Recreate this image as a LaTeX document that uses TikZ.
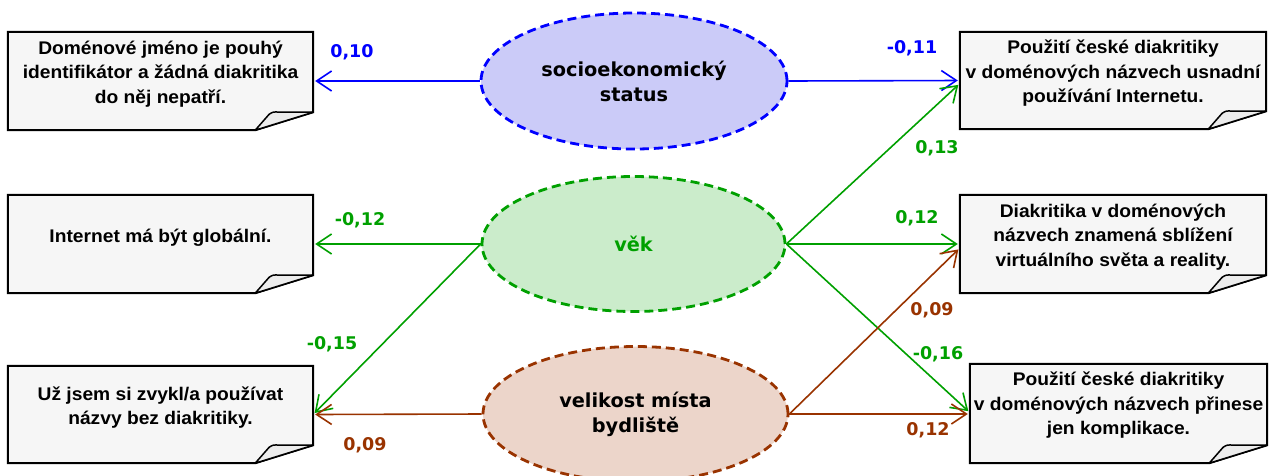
\documentclass[tikz,border=0pt]{standalone}
\usepackage{fontspec}
\setmainfont{Liberation Sans}
\newfontfamily\boxfont{Liberation Sans}[FakeStretch=1.05]
\newfontfamily\verd{DejaVu Sans}
\usetikzlibrary{shapes.geometric,arrows.meta,backgrounds}
\definecolor{cblue}{RGB}{0,0,255}
\definecolor{cgreen}{RGB}{0,160,0}
\definecolor{cbrown}{RGB}{153,51,0}
\definecolor{fblue}{RGB}{203,203,248}
\definecolor{fgreen}{RGB}{203,236,203}
\definecolor{fbrown}{RGB}{236,213,202}
\definecolor{boxgray}{RGB}{246,246,246}
\definecolor{foldgray}{RGB}{236,236,236}
\newcommand\foldbox[1]{%
  \filldraw[fill=boxgray, line width=2pt, line join=miter]
    (#1.north west) -- (#1.north east) -- ([yshift=18pt]#1.south east)
    -- ([xshift=-58pt]#1.south east) -- (#1.south west) -- cycle;
  \filldraw[fill=foldgray, line width=1.5pt, line join=round]
    ([xshift=-58pt]#1.south east) -- ([xshift=-44pt,yshift=16pt]#1.south east)
    .. controls ([xshift=-40pt,yshift=18.5pt]#1.south east) ..
    ([xshift=-33pt,yshift=18pt]#1.south east) -- ([yshift=18pt]#1.south east) -- cycle;
}
\begin{document}
\begin{tikzpicture}[x=1pt,y=-1pt,
  boxshape/.style={rectangle, inner sep=0pt, minimum width=305pt, minimum height=98pt},
  boxtext/.style={inner sep=0pt, align=center, font=\boxfont\fontsize{18.3}{24.5}\selectfont\bfseries},
  ell/.style={ellipse, line width=2.8pt, dash pattern=on 9pt off 5pt, inner sep=0pt,
    minimum width=305pt, minimum height=135pt, align=center,
    font=\verd\fontsize{19.3}{25}\selectfont\bfseries},
  coef/.style={font=\verd\fontsize{17.5}{20}\selectfont\bfseries, inner sep=0pt},
  conn/.style={line width=1.6pt, -{Straight Barb[length=15pt,width=20pt,line width=1.6pt]}, shorten >=2pt},
]
\useasboundingbox (0,0) rectangle (1269,475);

% boxes
\node[boxshape] (b1) at (160.5,81) {};
\node[boxshape] (b2) at (160.5,244) {};
\node[boxshape, minimum height=97pt] (b3) at (160.5,414.5) {};
\node[boxshape, minimum width=306pt, minimum height=97pt] (b4) at (1113,80.5) {};
\node[boxshape, minimum width=306pt] (b5) at (1113,244) {};
\node[boxshape, minimum width=297pt, minimum height=99pt] (b6) at (1118.5,413.5) {};

\begin{scope}[on background layer]
  \foldbox{b1}\foldbox{b2}\foldbox{b3}\foldbox{b4}\foldbox{b5}\foldbox{b6}
\end{scope}

\node[boxtext] (t1) at ([yshift=7pt]b1.center) {Doménové jméno je pouhý\\identifikátor a žádná diakritika\\do něj nepatří.};
\node[boxtext] (t2) at ([yshift=6pt]b2.center) {Internet má být globální.};
\node[boxtext] (t3) at ([yshift=7pt]b3.center) {Už jsem si zvykl/a používat\\názvy bez diakritiky.};
\node[boxtext] (t4) at ([yshift=7pt]b4.center) {Použití české diakritiky\\v doménových názvech usnadní\\používání Internetu.};
\node[boxtext] (t5) at ([yshift=7pt]b5.center) {Diakritika v doménových\\názvech znamená sblížení\\virtuálního světa a reality.};
\node[boxtext] (t6) at ([yshift=8pt]b6.center) {Použití české diakritiky\\v doménových názvech přinese\\jen komplikace.};

% ellipses
\node[ell, draw=cblue, fill=fblue, minimum width=306pt, minimum height=136pt] (e1) at (634,81) {socioekonomický\\status};
\node[ell, draw=cgreen, fill=fgreen, minimum width=303pt, text=cgreen] (e2) at (633.5,244) {věk};
\node[ell, draw=cbrown, fill=fbrown] (e3) at (635.5,414) {velikost místa\\bydliště};

% connectors
\draw[conn, cblue] (e1.west) -- (b1.east);
\draw[conn, cblue] (e1.east) -- (b4.west);
\draw[conn, cgreen] (e2.west) -- (b2.east);
\draw[conn, cgreen] (e2.west) -- (b3.east);
\draw[conn, cbrown] (e3.west) -- (b3.east);
\draw[conn, cgreen] (e2.east) -- ([yshift=-3pt]b4.west);
\draw[conn, cgreen] (e2.east) -- (b5.west);
\draw[conn, cgreen] (e2.east) -- ([yshift=1pt]b6.west);
\draw[conn, cbrown] (e3.east) -- ([yshift=-4pt]b5.west);
\draw[conn, cbrown] (e3.east) -- ([yshift=-0.5pt]b6.west);

% coefficients
\node[coef, text=cblue] (c1) at (352,52) {0,10};
\node[coef, text=cblue] (c2) at (912,48) {-0,11};
\node[coef, text=cgreen] (c3) at (360,220) {-0,12};
\node[coef, text=cgreen] (c4) at (937,148) {0,13};
\node[coef, text=cgreen] (c5) at (917,218) {0,12};
\node[coef, text=cbrown] (c6) at (932,310) {0,09};
\node[coef, text=cgreen] (c7) at (332,344) {-0,15};
\node[coef, text=cbrown] (c8) at (365,445) {0,09};
\node[coef, text=cgreen] (c9) at (938,354) {-0,16};
\node[coef, text=cbrown] (c10) at (928,430) {0,12};
\end{tikzpicture}
\end{document}
